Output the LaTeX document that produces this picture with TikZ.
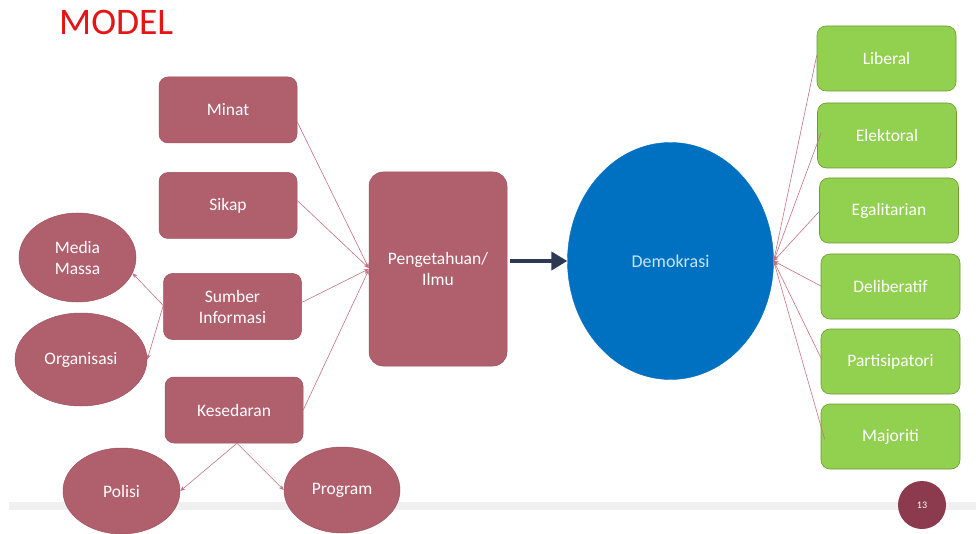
\documentclass[tikz,border=0pt]{standalone}
\usepackage{fontspec}
\setmainfont{Carlito}
\usetikzlibrary{shapes.geometric,arrows.meta,calc}
\definecolor{boxred}{HTML}{B05F6D}
\definecolor{boxredline}{HTML}{A0505E}
\definecolor{demoblue}{HTML}{0070C0}
\definecolor{grn}{HTML}{92D050}
\definecolor{grnline}{HTML}{6E9A30}
\definecolor{conn}{HTML}{C4727E}
\definecolor{navy}{HTML}{2B3A52}
\definecolor{pgred}{HTML}{8C3A4E}
\definecolor{band}{HTML}{F0F0F0}
\definecolor{demotext}{HTML}{C6E6F7}
\begin{document}
\begin{tikzpicture}[x=1pt,y=-1pt,
  lbl/.style={text=white,font=\fontsize{17.5}{21}\selectfont,align=center},
  rbox/.style={lbl,rectangle,rounded corners=9pt,fill=boxred,draw=boxredline,line width=0.5pt,minimum width=138pt,minimum height=66pt,inner sep=0pt},
  rell/.style={lbl,ellipse,fill=boxred,draw=boxredline,line width=0.5pt,inner sep=0pt},
  gbox/.style={lbl,rectangle,rounded corners=9pt,fill=grn,draw=grnline,line width=0.6pt,minimum width=139pt,minimum height=65pt,inner sep=0pt},
  link/.style={draw=conn,line width=0.6pt,-{Stealth[length=5pt,width=4pt]}}
]
\useasboundingbox (0,0) rectangle (976,534);
\fill[white] (0,0) rectangle (976,534);
% bottom band
\fill[band] (9,502) rectangle (976,510);
% title
\node[anchor=base west,text={rgb,255:red,230;green,20;blue,20},font=\fontsize{37.5}{40}\selectfont,inner sep=0pt] (title) at (59,35) {MODEL};
% left boxes
\node[rbox] (minat) at (228,110) {Minat};
\node[rbox] (sikap) at (228,205.5) {Sikap};
\node[rbox] (sumber) at (232.5,306.5) {Sumber\\Informasi};
\node[rbox] (kes) at (234,410) {Kesedaran};
\node[rbox,minimum height=194pt,rounded corners=14pt] (peng) at (438,269) {Pengetahuan/\\Ilmu};
% ellipses
\node[rell,minimum width=117pt,minimum height=89pt] (mm) at (77.5,257.5) {Media\\Massa};
\node[rell,minimum width=132pt,minimum height=93pt] (org) at (81,359.5) {Organisasi};
\node[rell,minimum width=117pt,minimum height=86pt] (polisi) at (121.5,491) {Polisi};
\node[rell,minimum width=116pt,minimum height=86pt] (program) at (342,490) {Program};
% demokrasi
\node[lbl,ellipse,fill=demoblue,draw=demoblue,inner sep=0pt,minimum width=206pt,minimum height=237pt,font=\fontsize{18}{21}\selectfont,text=demotext] (demo) at (670.5,261) {Demokrasi};
% green boxes
\node[gbox] (lib) at (886.5,58.5) {Liberal};
\node[gbox] (elek) at (887,135.5) {Elektoral};
\node[gbox] (egal) at (889,210.5) {Egalitarian};
\node[gbox] (delib) at (890.5,286.5) {Deliberatif};
\node[gbox] (part) at (890.5,361.5) {Partisipatori};
\node[gbox] (maj) at (890.5,436.5) {Majoriti};
% page number
\node[circle,fill=pgred,minimum size=48pt,inner sep=0pt,text=white,font=\fontsize{10}{12}\selectfont] (pg) at (922,505) {13};
% connectors to Pengetahuan
\draw[link] ([yshift=-12pt]minat.east) -- ([yshift=1pt]peng.west);
\draw[link] ([yshift=5pt]sikap.east) -- ([yshift=1pt]peng.west);
\draw[link] ([yshift=4pt]sumber.east) -- (peng.west);
\draw[link] (kes.east) -- ([yshift=-1pt]peng.west);
% Sumber to ellipses
\draw[link] ([yshift=1pt]sumber.west) -- (mm.-16);
\draw[link] ([yshift=1pt]sumber.west) -- (org.east);
% Kesedaran to ellipses
\draw[link] ([xshift=3pt]kes.south) -- (polisi.east);
\draw[link] ([xshift=3pt]kes.south) -- (program.west);
% main arrow
\draw[navy,line width=4.5pt,-{Triangle[length=16pt,width=18pt]}] ([xshift=3pt]peng.east |- demo.west) -- (demo.west);
% green to demokrasi
\draw[link] ([yshift=3pt]lib.west) -- (demo.east);
\draw[link] ([xshift=4pt,yshift=3pt]elek.west) -- (demo.east);
\draw[link] ([yshift=-1pt]egal.west) -- (demo.east);
\draw[link] ([xshift=1pt]delib.west) -- (demo.east);
\draw[link] ([xshift=1pt,yshift=2pt]part.west) -- (demo.east);
\draw[link] ([xshift=4pt,yshift=-3pt]maj.west) -- (demo.east);
\end{tikzpicture}
\end{document}
